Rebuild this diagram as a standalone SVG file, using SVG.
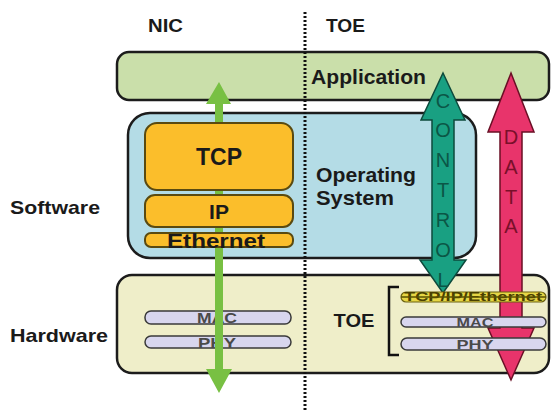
<svg xmlns="http://www.w3.org/2000/svg" width="552" height="410" viewBox="0 0 552 410">
<style>
.box{stroke:#1c1c1c;stroke-width:2.5}
.lbl{font-family:"Liberation Sans",Arial,sans-serif;font-weight:bold;fill:#1a1a1a}
.bar{fill:#d8d6ee;stroke:#3a3a3a;stroke-width:1.5}
.small{font-family:"Liberation Sans",Arial,sans-serif;font-weight:bold;fill:#4a4a4a}
.vl{font-family:"Liberation Sans",Arial,sans-serif;font-size:20px;text-anchor:middle}
</style>
<rect width="552" height="410" fill="#ffffff"/>

<g id="headers">
<text class="lbl" x="148" y="32" font-size="18" textLength="35" lengthAdjust="spacingAndGlyphs">NIC</text>
<text class="lbl" x="326" y="32" font-size="18" textLength="39" lengthAdjust="spacingAndGlyphs">TOE</text>
<text class="lbl" x="10" y="214" font-size="19" textLength="90" lengthAdjust="spacingAndGlyphs">Software</text>
<text class="lbl" x="10" y="342" font-size="19" textLength="98" lengthAdjust="spacingAndGlyphs">Hardware</text>
</g>

<g id="application">
<rect class="box" x="117" y="52" width="432" height="48" rx="12" fill="#cadfaa"/>
<text class="lbl" x="311" y="84" font-size="20" textLength="115" lengthAdjust="spacingAndGlyphs">Application</text>
</g>

<g id="os">
<rect class="box" x="128" y="113" width="348" height="145" rx="22" fill="#b4dce6"/>
<text class="lbl" x="316" y="182" font-size="21" textLength="100" lengthAdjust="spacingAndGlyphs">Operating</text>
<text class="lbl" x="316" y="205" font-size="21" textLength="78" lengthAdjust="spacingAndGlyphs">System</text>
</g>

<g id="hardware">
<rect class="box" x="117" y="275" width="432" height="98" rx="15" fill="#efeec9"/>
</g>

<g id="nic-mac">
<rect class="bar" x="145" y="311" width="146" height="13" rx="6"/>
<text class="small" x="217" y="323" font-size="15" text-anchor="middle" textLength="40" lengthAdjust="spacingAndGlyphs">MAC</text>
</g>
<g id="nic-phy">
<rect class="bar" x="145" y="336" width="146" height="12" rx="6"/>
<text class="small" x="217" y="348" font-size="15" text-anchor="middle" textLength="38" lengthAdjust="spacingAndGlyphs">PHY</text>
</g>

<g id="connectors">
<polygon id="nic-data" points="219,82 231,104 223,104 223,369 232,369 219,393 206,369 215,369 215,104 206,104" fill="#78c043"/>
<line id="divider" x1="305" y1="12" x2="305" y2="410" stroke="#111" stroke-width="3" stroke-dasharray="2 2"/>
</g>

<g id="tcp">
<rect x="145" y="123" width="148" height="67" rx="12" fill="#fbbe2b" stroke="#5a4a10" stroke-width="2"/>
<text class="lbl" x="219" y="165" font-size="23" text-anchor="middle">TCP</text>
</g>
<g id="ip">
<rect x="145" y="195" width="148" height="32" rx="10" fill="#fbbe2b" stroke="#5a4a10" stroke-width="2"/>
<text class="lbl" x="219" y="219" font-size="21" text-anchor="middle">IP</text>
</g>
<g id="ethernet">
<rect x="145" y="233" width="148" height="14" rx="6" fill="#fbbe2b" stroke="#5a4a10" stroke-width="2"/>
<text class="lbl" x="216" y="248" font-size="20" text-anchor="middle" textLength="98" lengthAdjust="spacingAndGlyphs" fill="#2a2000">Ethernet</text>
</g>

<g id="control">
<polygon points="443,73 465,120 454,120 454,260 466,260 443,293 420,260 432,260 432,120 421,120" fill="#19a082" stroke="#0d4a3c" stroke-width="1.5"/>
<g class="vl" fill="#0b5646">
<text x="443" y="108">C</text>
<text x="443" y="137">O</text>
<text x="443" y="167">N</text>
<text x="443" y="197">T</text>
<text x="443" y="227">R</text>
<text x="443" y="257">O</text>
<text x="443" y="287">L</text>
</g>
</g>

<g id="data">
<polygon points="511,73 534,132 522,132 522,328 534,328 511,380 488,328 500,328 500,132 488,132" fill="#e8346b" stroke="#6a0f25" stroke-width="1.5"/>
<g class="vl" fill="#7a0f2a">
<text x="511" y="144">D</text>
<text x="511" y="174">A</text>
<text x="511" y="204">T</text>
<text x="511" y="233">A</text>
</g>
</g>

<g id="toe">
<text class="lbl" x="354" y="327" font-size="19" text-anchor="middle" textLength="41" lengthAdjust="spacingAndGlyphs">TOE</text>
<path d="M399,287 H389 V355 H399" fill="none" stroke="#111" stroke-width="2.5"/>
</g>

<g id="toe-tcpip">
<rect x="401" y="292" width="145" height="10" rx="5" fill="#e6d645" stroke="#6a6010" stroke-width="1.2"/>
<text x="473" y="301" font-family="'Liberation Sans',Arial,sans-serif" font-size="12" font-weight="bold" fill="#4a4000" text-anchor="middle" textLength="138" lengthAdjust="spacingAndGlyphs">TCP/IP/Ethernet</text>
<line x1="401" y1="297" x2="546" y2="297" stroke="#5a5000" stroke-width="1.5"/>
</g>
<g id="toe-mac">
<rect class="bar" x="401" y="317" width="145" height="10" rx="5"/>
<text class="small" x="475" y="327" font-size="13" text-anchor="middle" textLength="37" lengthAdjust="spacingAndGlyphs">MAC</text>
</g>
<g id="toe-phy">
<rect class="bar" x="401" y="338" width="145" height="12" rx="6"/>
<text class="small" x="475" y="349" font-size="13" text-anchor="middle" textLength="37" lengthAdjust="spacingAndGlyphs">PHY</text>
</g>
</svg>
